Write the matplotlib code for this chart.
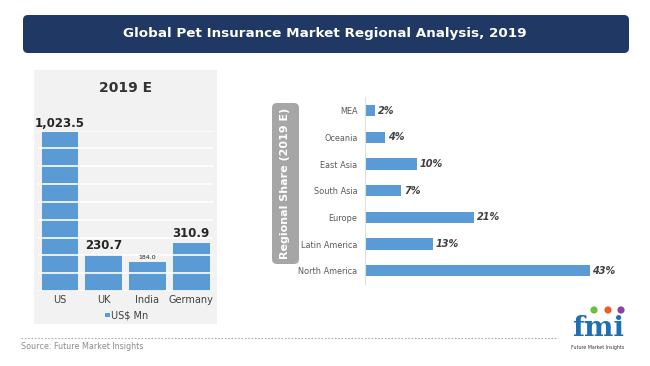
import matplotlib
matplotlib.use("Agg")
import matplotlib.pyplot as plt
from matplotlib.patches import FancyBboxPatch, Rectangle, Circle
from matplotlib.ticker import MultipleLocator

# data
countries = ["US", "UK", "India", "Germany"]
country_values = [1023.5, 230.7, 184.0, 310.9]
country_labels = ["1,023.5", "230.7", "184.0", "310.9"]

regions = ["MEA", "Oceania", "East Asia", "South Asia", "Europe", "Latin America", "North America"]
shares = [2, 4, 10, 7, 21, 13, 43]

W, H = 650, 366
BLUE = "#5b9bd5"

fig = plt.figure(figsize=(6.5, 3.66), dpi=100)
fig.patch.set_facecolor("white")


def px_axes(x0, y0, x1, y1, **kw):
    return fig.add_axes([x0 / W, 1 - y1 / H, (x1 - x0) / W, (y1 - y0) / H], **kw)


# background layer in pixel coordinates
bg = fig.add_axes([0, 0, 1, 1], zorder=0)
bg.set_xlim(0, W)
bg.set_ylim(H, 0)
bg.axis("off")

# title banner
bg.add_patch(FancyBboxPatch((23, 15), 606, 38, boxstyle="round,pad=0,rounding_size=5",
                            fc="#1f3864", ec="none"))
bg.text(325, 34, "Global Pet Insurance Market Regional Analysis, 2019",
        color="white", fontsize=9.7, fontweight="bold", ha="center", va="center")

# left grey panel
bg.add_patch(Rectangle((34, 70), 183, 254, fc="#f2f2f2", ec="none"))
bg.text(125.5, 88, "2019 E", fontsize=10, fontweight="bold", color="#333333",
        ha="center", va="center")
bg.add_patch(Rectangle((105, 312.5), 4.5, 4.5, fc=BLUE, ec="none"))
bg.text(111, 315, "US$ Mn", fontsize=7, color="#404040", ha="left", va="center")

# rotated label box
bg.add_patch(FancyBboxPatch((272, 103), 27, 161, boxstyle="round,pad=0,rounding_size=5",
                            fc="#a6a6a6", ec="none"))
bg.text(285.5, 183.5, "Regional Share (2019 E)", rotation=90, color="white",
        fontsize=8, fontweight="bold", ha="center", va="center")

# footer
bg.plot([21, 558], [338, 338], color="#b0b0b0", lw=0.8, ls=(0, (1.5, 1.5)))
bg.text(21, 346.5, "Source: Future Market Insights", fontsize=5.8, color="#8c8c8c",
        ha="left", va="center")

# logo
bg.text(598, 329, "fmi", fontsize=20, fontweight="bold", family="DejaVu Serif",
        color="#1f6fb5", ha="center", va="center")
for cx, cy, c in [(594, 310, "#6cbf3c"), (608, 310, "#f0592a"), (621, 310, "#8e3fa1")]:
    bg.add_patch(Circle((cx, cy), 3.6, fc=c, ec="none"))
bg.text(598, 347, "Future Market Insights", fontsize=3.4, color="#333333",
        ha="center", va="center")

# left bar chart
ax1 = px_axes(38, 130.5, 213, 291)
ax1.set_facecolor("none")
ax1.set_axisbelow(False)
x = range(len(countries))
ax1.bar(x, country_values, width=0.84, color=BLUE, zorder=1)
ax1.set_ylim(0, 1035)
ax1.set_xlim(-0.5, len(countries) - 0.5)
ax1.yaxis.set_major_locator(MultipleLocator(115))
ax1.grid(axis="y", color="white", lw=1.2, zorder=2)
ax1.set_xticks(list(x))
ax1.set_xticklabels(countries, fontsize=7, color="#404040")
ax1.tick_params(axis="x", length=0, pad=3)
ax1.tick_params(axis="y", length=0, labelleft=False)
for s in ax1.spines.values():
    s.set_visible(False)
for i, (v, lab) in enumerate(zip(country_values, country_labels)):
    small = lab == "184.0"
    ax1.annotate(lab, (i, v), xytext=(0, 2), textcoords="offset points",
                 ha="center", va="bottom", fontsize=4.5 if small else 8.5,
                 fontweight="normal" if small else "bold", color="#262626",
                 annotation_clip=False)

# right horizontal bar chart
ax2 = px_axes(364.5, 97.4, 620, 284)
ax2.set_facecolor("none")
y = range(len(regions))
ax2.barh(y, shares, height=0.42, color=BLUE)
ax2.set_ylim(len(regions) - 0.5, -0.5)
ax2.set_xlim(0, 48.8)
ax2.set_yticks(list(y))
ax2.set_yticklabels(regions, fontsize=5.9, color="#595959")
ax2.tick_params(axis="y", length=0, pad=5)
ax2.tick_params(axis="x", length=0, labelbottom=False)
for k, s in ax2.spines.items():
    s.set_visible(k == "left")
ax2.spines["left"].set_color("#e0e0e0")
ax2.spines["left"].set_linewidth(0.8)
for i, v in enumerate(shares):
    ax2.annotate(f"{v}%", (v, i), xytext=(2, 0), textcoords="offset points",
                 ha="left", va="center", fontsize=7, fontweight="bold",
                 fontstyle="italic", color="#404040", annotation_clip=False)

fig.savefig("out.png", dpi=100)
